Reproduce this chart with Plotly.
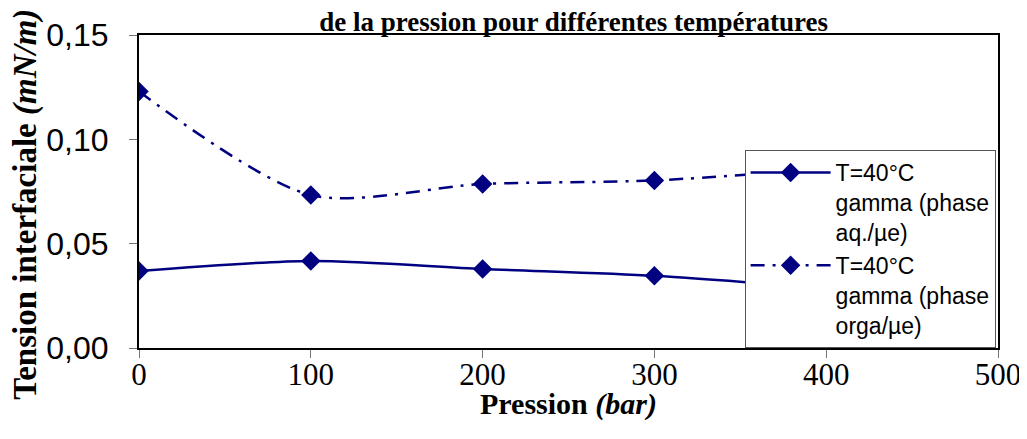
import plotly.graph_objects as go

pression = [0, 100, 200, 300, 400]
gamma_aq = [0.0369, 0.0417, 0.0379, 0.0346, 0.0285]
gamma_orga = [0.1229, 0.0733, 0.0786, 0.0803, 0.0860]

x_ticks = [0, 100, 200, 300, 400, 500]
y_ticks = [0.0, 0.05, 0.10, 0.15]
y_labels = ["0,00", "0,05", "0,10", "0,15"]

navy = "#000080"

fig = go.Figure()
fig.add_trace(go.Scatter(
    x=pression, y=gamma_aq, mode="lines+markers",
    name="T=40°C<br>gamma (phase<br>aq./µe)",
    line=dict(color=navy, width=2.5, shape="spline", smoothing=0.8),
    marker=dict(symbol="diamond", size=15, color=navy),
))
fig.add_trace(go.Scatter(
    x=pression, y=gamma_orga, mode="lines+markers",
    name="T=40°C<br>gamma (phase<br>orga/µe)",
    line=dict(color=navy, width=2.5, shape="spline", smoothing=0.8,
              dash="14px,8px,3px,8px"),
    marker=dict(symbol="diamond", size=15, color=navy),
))

fig.update_layout(
    width=1019, height=431,
    margin=dict(l=131, r=29, t=27, b=91, autoexpand=False),
    paper_bgcolor="white", plot_bgcolor="white",
    title=dict(text="<b>de la pression pour différentes températures</b>",
               x=0.555, xanchor="center", y=0.99, yanchor="top",
               font=dict(family="Liberation Serif", size=27, color="black")),
    showlegend=True,
    legend=dict(x=0.705, xanchor="left", y=0.0, yanchor="bottom",
                bgcolor="white", bordercolor="#555555", borderwidth=1,
                font=dict(family="Liberation Sans", size=23, color="black"),
                itemwidth=80, valign="top", tracegroupgap=0),
    annotations=[
        dict(text="<b>Tension interfaciale <i>(mN/m)</i></b>", textangle=-90,
             xref="paper", yref="paper", x=-0.133, y=0.46,
             xanchor="center", yanchor="middle", showarrow=False,
             font=dict(family="Liberation Serif", size=33, color="black")),
        dict(text="<b>Pression <i>(bar)</i></b>",
             xref="paper", yref="paper", x=0.5, y=-0.18,
             xanchor="center", yanchor="middle", showarrow=False,
             font=dict(family="Liberation Serif", size=30, color="black")),
    ],
)
fig.update_xaxes(
    range=[0, 500], tickvals=x_ticks, ticktext=[str(v) for v in x_ticks],
    showgrid=False, zeroline=False, automargin=False,
    showline=True, linecolor="black", linewidth=2, mirror=True,
    ticks="outside", ticklen=8, tickcolor="#777777", tickwidth=1,
    ticklabelstandoff=-10,
    tickfont=dict(family="Liberation Serif", size=31, color="black"),
)
fig.update_yaxes(
    range=[0, 0.15], tickvals=y_ticks, ticktext=y_labels,
    showgrid=False, zeroline=False, automargin=False,
    showline=True, linecolor="black", linewidth=2, mirror=True,
    ticks="outside", ticklen=8, tickcolor="#777777", tickwidth=1,
    ticklabelstandoff=14,
    tickfont=dict(family="Liberation Sans", size=32, color="black"),
)

fig.write_html("out.html")
